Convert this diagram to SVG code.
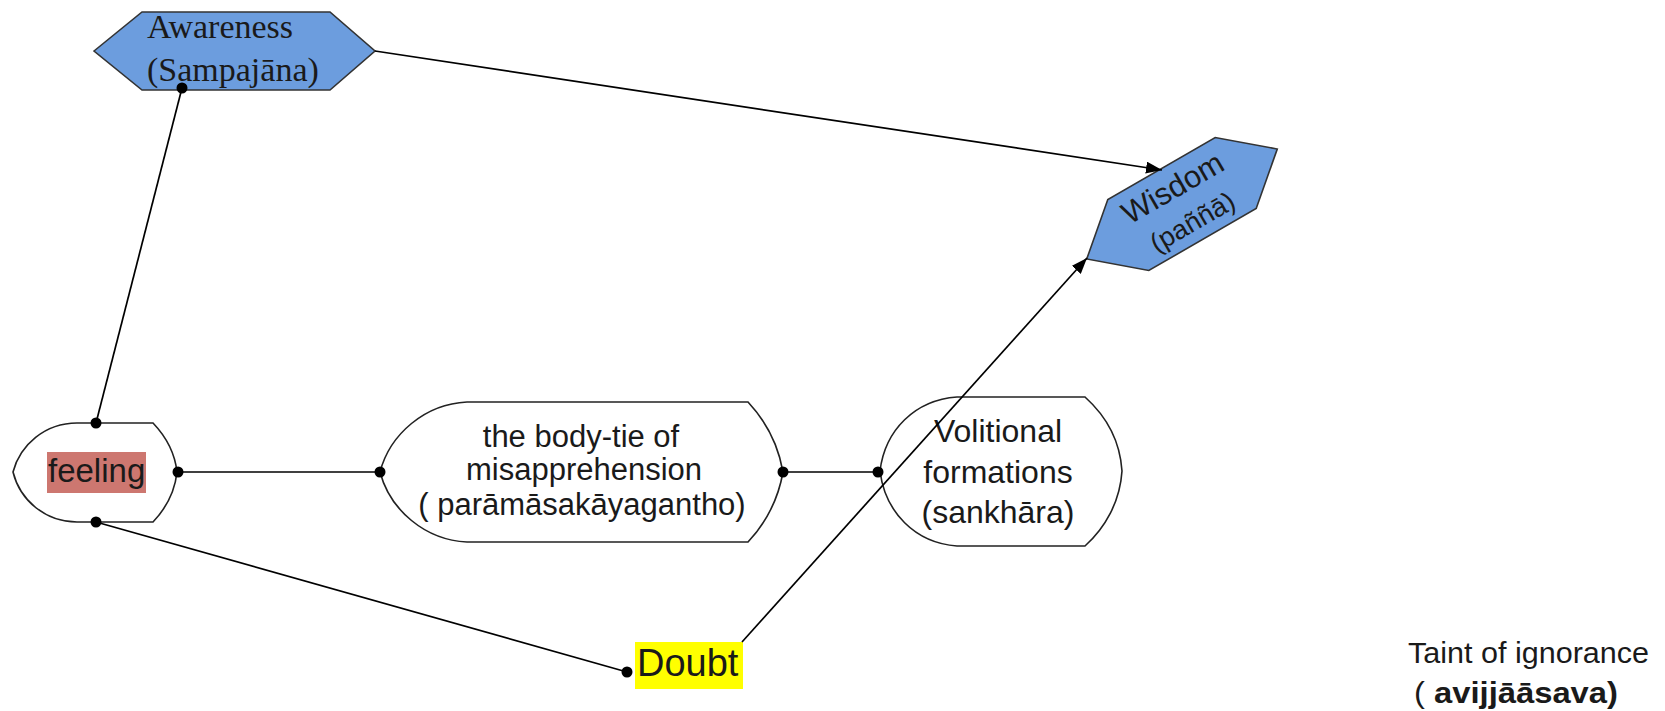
<svg xmlns="http://www.w3.org/2000/svg" width="1665" height="711" viewBox="0 0 1665 711">
<defs>
<marker id="arrow" viewBox="0 0 16 12" refX="16" refY="6" markerWidth="16" markerHeight="12" markerUnits="userSpaceOnUse" orient="auto">
<path d="M0,0 L16,6 L0,12 Z" fill="#000"/>
</marker>
<style>
.node{fill:#fff;stroke:#222;stroke-width:1.6}
.blue{fill:#6C9DDE;stroke:#333;stroke-width:1.6}
.conn{stroke:#000;stroke-width:1.7;fill:none}
.dot{fill:#000}
.sans{font-family:"Liberation Sans",Arial,sans-serif;fill:#1a1a1a}
.serif{font-family:"Liberation Serif","Times New Roman",serif;fill:#1a1a1a}
</style>
</defs>
<rect width="1665" height="711" fill="#fff"/>
<g id="awareness">
<polygon class="blue" points="94,51 142,12 330,12 375,51 330,90 142,90"/>
<text class="serif" font-size="34" x="147" y="38">Awareness</text>
<text class="serif" font-size="34" x="147" y="81">(Sampajāna)</text>
</g>
<g id="wisdom" transform="translate(1182,204) rotate(-30)">
<polygon class="blue" points="-110,0 -62,-41 62,-41 110,0 62,41 -62,41"/>
<text class="sans" font-size="31" x="0" y="-8" text-anchor="middle">Wisdom</text>
<text class="sans" font-size="27" x="0" y="30" text-anchor="middle">(paññā)</text>
</g>
<g id="feeling">
<path class="node" d="M77,423 L153,423 Q174,445 177,472 Q174,500 153,522 L77,522 C45,522 20,500 13,472 C20,445 45,423 77,423 Z"/>
<rect x="47" y="452" width="99" height="41" fill="#CD7770"/>
<text class="sans" font-size="33" x="48" y="482">feeling</text>
</g>
<g id="bodytie">
<path class="node" d="M467,402 L748,402 Q776,432 783,472 Q776,512 748,542 L467,542 C425,540 390,510 380,472 C390,434 425,404 467,402 Z"/>
<text class="sans" font-size="31" x="581" y="447" text-anchor="middle">the body-tie of</text>
<text class="sans" font-size="31" x="584" y="480" text-anchor="middle">misapprehension</text>
<text class="sans" font-size="31" x="582" y="515" text-anchor="middle">( parāmāsakāyagantho)</text>
</g>
<g id="volitional">
<path class="node" d="M957,397 L1085,397 C1105,415 1120,440 1122,471 C1120,502 1105,528 1085,546 L957,546 C915,543 885,512 880,471 C885,430 915,400 957,397 Z"/>
<text class="sans" font-size="32" x="998" y="442" text-anchor="middle">Volitional</text>
<text class="sans" font-size="32" x="998" y="483" text-anchor="middle">formations</text>
<text class="sans" font-size="32" x="998" y="523" text-anchor="middle">(sankhāra)</text>
</g>
<g id="doubt">
<rect x="635" y="642" width="108" height="47" fill="#FFFF00"/>
<text class="sans" font-size="38" x="637" y="676">Doubt</text>
</g>
<g id="taint">
<text class="sans" font-size="30" x="1408" y="663" textLength="241" lengthAdjust="spacingAndGlyphs" fill="#222">Taint of ignorance</text>
<text class="sans" font-size="30" x="1414" y="703" textLength="204" lengthAdjust="spacingAndGlyphs" fill="#222">( <tspan font-weight="bold">avijjāāsava)</tspan></text>
</g>
<g id="connectors">
<line class="conn" x1="182" y1="88" x2="96" y2="423"/>
<line class="conn" x1="375" y1="51" x2="1162" y2="170" marker-end="url(#arrow)"/>
<line class="conn" x1="178" y1="472" x2="380" y2="472"/>
<line class="conn" x1="783" y1="472" x2="878" y2="472"/>
<line class="conn" x1="96" y1="522" x2="627" y2="672"/>
<line class="conn" x1="742" y1="642" x2="1087" y2="258" marker-end="url(#arrow)"/>
<circle class="dot" cx="182" cy="88" r="5.5"/>
<circle class="dot" cx="96" cy="423" r="5.5"/>
<circle class="dot" cx="178" cy="472" r="5.5"/>
<circle class="dot" cx="380" cy="472" r="5.5"/>
<circle class="dot" cx="783" cy="472" r="5.5"/>
<circle class="dot" cx="878" cy="472" r="5.5"/>
<circle class="dot" cx="96" cy="522" r="5.5"/>
<circle class="dot" cx="627" cy="672" r="5.5"/>
</g>
</svg>
